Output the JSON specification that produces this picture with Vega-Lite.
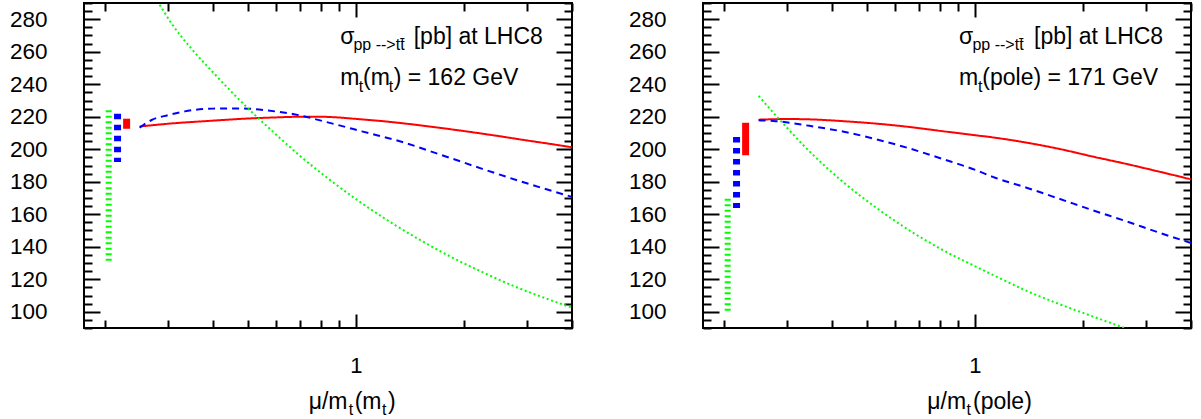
{
  "$schema": "https://vega.github.io/schema/vega-lite/v6.json",
  "padding": {"left": 8, "top": 1, "right": 0, "bottom": 0},
  "bounds": "flush",
  "spacing": 131,
  "datasets": {
    "curvesL": [
      {"series": "NNLO", "mu": 0.25, "sigma": 214.0},
      {"series": "NNLO", "mu": 0.3, "sigma": 215.7},
      {"series": "NNLO", "mu": 0.4, "sigma": 217.6},
      {"series": "NNLO", "mu": 0.5, "sigma": 218.9},
      {"series": "NNLO", "mu": 0.6, "sigma": 219.6},
      {"series": "NNLO", "mu": 0.7, "sigma": 220.0},
      {"series": "NNLO", "mu": 0.8, "sigma": 220.0},
      {"series": "NNLO", "mu": 0.9, "sigma": 219.5},
      {"series": "NNLO", "mu": 1.0, "sigma": 218.7},
      {"series": "NNLO", "mu": 1.25, "sigma": 216.8},
      {"series": "NNLO", "mu": 1.5, "sigma": 214.8},
      {"series": "NNLO", "mu": 2.0, "sigma": 211.2},
      {"series": "NNLO", "mu": 2.5, "sigma": 208.1},
      {"series": "NNLO", "mu": 3.0, "sigma": 205.4},
      {"series": "NNLO", "mu": 3.5, "sigma": 203.2},
      {"series": "NNLO", "mu": 4.0, "sigma": 201.2},
      {"series": "NLO", "mu": 0.25, "sigma": 213.3},
      {"series": "NLO", "mu": 0.27, "sigma": 218.0},
      {"series": "NLO", "mu": 0.3, "sigma": 221.0},
      {"series": "NLO", "mu": 0.334, "sigma": 223.3},
      {"series": "NLO", "mu": 0.4, "sigma": 225.0},
      {"series": "NLO", "mu": 0.48, "sigma": 225.1},
      {"series": "NLO", "mu": 0.57, "sigma": 223.8},
      {"series": "NLO", "mu": 0.7, "sigma": 220.8},
      {"series": "NLO", "mu": 0.8, "sigma": 217.6},
      {"series": "NLO", "mu": 0.9, "sigma": 214.7},
      {"series": "NLO", "mu": 1.04, "sigma": 211.0},
      {"series": "NLO", "mu": 1.34, "sigma": 204.6},
      {"series": "NLO", "mu": 1.735, "sigma": 196.4},
      {"series": "NLO", "mu": 2.24, "sigma": 188.1},
      {"series": "NLO", "mu": 2.9, "sigma": 180.0},
      {"series": "NLO", "mu": 4.0, "sigma": 170.7},
      {"series": "LO", "mu": 0.25, "sigma": 308.5},
      {"series": "LO", "mu": 0.2814, "sigma": 290.5},
      {"series": "LO", "mu": 0.3077, "sigma": 277.0},
      {"series": "LO", "mu": 0.3498, "sigma": 261.5},
      {"series": "LO", "mu": 0.3977, "sigma": 248.0},
      {"series": "LO", "mu": 0.4521, "sigma": 235.0},
      {"series": "LO", "mu": 0.5239, "sigma": 221.0},
      {"series": "LO", "mu": 0.6033, "sigma": 208.5},
      {"series": "LO", "mu": 0.6859, "sigma": 197.5},
      {"series": "LO", "mu": 0.8314, "sigma": 182.5},
      {"series": "LO", "mu": 1.0207, "sigma": 168.0},
      {"series": "LO", "mu": 1.2613, "sigma": 154.5},
      {"series": "LO", "mu": 1.5288, "sigma": 143.5},
      {"series": "LO", "mu": 1.8892, "sigma": 132.5},
      {"series": "LO", "mu": 2.2463, "sigma": 124.5},
      {"series": "LO", "mu": 2.7755, "sigma": 115.5},
      {"series": "LO", "mu": 3.4515, "sigma": 107.5},
      {"series": "LO", "mu": 4.0, "sigma": 102.5}
    ],
    "curvesR": [
      {"series": "NNLO", "mu": 0.25, "sigma": 218.2},
      {"series": "NNLO", "mu": 0.3, "sigma": 218.6},
      {"series": "NNLO", "mu": 0.346, "sigma": 218.4},
      {"series": "NNLO", "mu": 0.429, "sigma": 217.3},
      {"series": "NNLO", "mu": 0.53, "sigma": 215.8},
      {"series": "NNLO", "mu": 0.658, "sigma": 213.7},
      {"series": "NNLO", "mu": 0.814, "sigma": 211.1},
      {"series": "NNLO", "mu": 1.006, "sigma": 208.6},
      {"series": "NNLO", "mu": 1.122, "sigma": 207.3},
      {"series": "NNLO", "mu": 1.4, "sigma": 204.0},
      {"series": "NNLO", "mu": 1.72, "sigma": 200.2},
      {"series": "NNLO", "mu": 2.12, "sigma": 195.6},
      {"series": "NNLO", "mu": 2.64, "sigma": 191.0},
      {"series": "NNLO", "mu": 3.25, "sigma": 186.3},
      {"series": "NNLO", "mu": 4.0, "sigma": 181.5},
      {"series": "NLO", "mu": 0.25, "sigma": 217.8},
      {"series": "NLO", "mu": 0.279, "sigma": 217.3},
      {"series": "NLO", "mu": 0.346, "sigma": 214.4},
      {"series": "NLO", "mu": 0.429, "sigma": 210.9},
      {"series": "NLO", "mu": 0.53, "sigma": 206.2},
      {"series": "NLO", "mu": 0.658, "sigma": 200.5},
      {"series": "NLO", "mu": 0.814, "sigma": 194.0},
      {"series": "NLO", "mu": 1.006, "sigma": 187.2},
      {"series": "NLO", "mu": 1.122, "sigma": 183.0},
      {"series": "NLO", "mu": 1.4, "sigma": 176.2},
      {"series": "NLO", "mu": 1.72, "sigma": 169.5},
      {"series": "NLO", "mu": 2.12, "sigma": 162.6},
      {"series": "NLO", "mu": 2.64, "sigma": 155.7},
      {"series": "NLO", "mu": 3.25, "sigma": 148.8},
      {"series": "NLO", "mu": 4.0, "sigma": 142.3},
      {"series": "LO", "mu": 0.25, "sigma": 232.8},
      {"series": "LO", "mu": 0.279, "sigma": 220.9},
      {"series": "LO", "mu": 0.346, "sigma": 198.8},
      {"series": "LO", "mu": 0.429, "sigma": 180.0},
      {"series": "LO", "mu": 0.53, "sigma": 164.2},
      {"series": "LO", "mu": 0.658, "sigma": 150.0},
      {"series": "LO", "mu": 0.814, "sigma": 138.0},
      {"series": "LO", "mu": 1.006, "sigma": 127.8},
      {"series": "LO", "mu": 1.122, "sigma": 122.7},
      {"series": "LO", "mu": 1.4, "sigma": 112.7},
      {"series": "LO", "mu": 1.72, "sigma": 104.7},
      {"series": "LO", "mu": 2.12, "sigma": 97.3},
      {"series": "LO", "mu": 2.585, "sigma": 90.4},
      {"series": "LO", "mu": 3.2, "sigma": 83.7},
      {"series": "LO", "mu": 4.0, "sigma": 77.0}
    ],
    "barsL": [
      {"series": "LO", "mu": 0.205, "hi": 224.0, "lo": 130.2},
      {"series": "NLO", "mu": 0.217, "hi": 221.9, "lo": 192.2},
      {"series": "NNLO", "mu": 0.23, "hi": 218.8, "lo": 212.6}
    ],
    "barsR": [
      {"series": "LO", "mu": 0.205, "hi": 169.6, "lo": 98.4},
      {"series": "NLO", "mu": 0.217, "hi": 207.5, "lo": 163.8},
      {"series": "NNLO", "mu": 0.23, "hi": 216.3, "lo": 196.3}
    ]
  },
  "hconcat": [
    {
      "width": 488,
      "height": 325,
      "layer": [
        {
          "data": {"name": "curvesL"},
          "mark": {"type": "line", "clip": true, "strokeWidth": 2, "interpolate": "monotone"},
          "encoding": {
            "x": {"field": "mu", "type": "quantitative", "scale": {"type": "log", "domain": [0.175, 4], "nice": false},
              "axis": {"orient": "bottom", "title": null, "domain": false, "grid": false, "values": [0.2,0.3,0.4,0.5,0.6,0.7,0.8,0.9,1,2,3,4],
                "labelExpr": "datum.value == 1 ? '1' : ''", "tickSize": {"condition": {"test": "datum.value == 1", "value": -14}, "value": -8},
                "labelFontSize": {"condition": {"test": "datum.value == 1", "value": 22}, "value": 1},
                "labelPadding": 41, "labelOverlap": false, "labelFlush": false}},
            "y": {"field": "sigma", "type": "quantitative", "scale": {"domain": [90, 290], "nice": false, "zero": false},
              "axis": {"orient": "left", "title": null, "domain": false, "grid": false,
                "values": [90,95,100,105,110,115,120,125,130,135,140,145,150,155,160,165,170,175,180,185,190,195,200,205,210,215,220,225,230,235,240,245,250,255,260,265,270,275,280,285,290],
                "labelExpr": "datum.value % 20 == 0 && datum.value >= 100 && datum.value <= 280 ? datum.label : ''",
                "labelFontSize": {"condition": {"test": "datum.value % 20 == 0 && datum.value >= 100 && datum.value <= 280", "value": 22.5}, "value": 1},
                "tickSize": {"condition": {"test": "datum.value % 20 == 0", "value": -16}, "value": -8},
                "labelPadding": 53, "labelOverlap": false, "labelFlush": false}},
            "color": {"field": "series", "type": "nominal", "scale": {"domain": ["LO", "NLO", "NNLO"], "range": ["#00ff00", "#0000ff", "#ff0000"]}, "legend": null},
            "strokeDash": {"field": "series", "type": "nominal", "scale": {"domain": ["LO", "NLO", "NNLO"], "range": [[2, 2.7], [7, 5], [1, 0]]}, "legend": null}
          }
        },
        {
          "data": {"name": "barsL"},
          "transform": [{"filter": "datum.series == 'LO'"}],
          "mark": {"type": "rule", "color": "#00ff00", "strokeWidth": 6, "strokeDash": [2, 3.5]},
          "encoding": {"x": {"field": "mu", "type": "quantitative", "axis": null}, "y": {"field": "hi", "type": "quantitative", "axis": null}, "y2": {"field": "lo"}}
        },
        {
          "data": {"name": "barsL"},
          "transform": [{"filter": "datum.series == 'NLO'"}],
          "mark": {"type": "rule", "color": "#0000ff", "strokeWidth": 7, "strokeDash": [5.5, 5.5]},
          "encoding": {"x": {"field": "mu", "type": "quantitative", "axis": null}, "y": {"field": "hi", "type": "quantitative", "axis": null}, "y2": {"field": "lo"}}
        },
        {
          "data": {"name": "barsL"},
          "transform": [{"filter": "datum.series == 'NNLO'"}],
          "mark": {"type": "rule", "color": "#ff0000", "strokeWidth": 7},
          "encoding": {"x": {"field": "mu", "type": "quantitative", "axis": null}, "y": {"field": "hi", "type": "quantitative", "axis": null}, "y2": {"field": "lo"}}
        },
        {"data": {"values": [{}]}, "mark": {"type": "text", "align": "left", "baseline": "alphabetic", "fontSize": 23, "font": "Liberation Sans", "color": "black"},
          "encoding": {"x": {"datum": 0.9054, "type": "quantitative", "axis": null}, "y": {"datum": 264.77, "type": "quantitative", "axis": null}, "text": {"value": "σ"}}},
        {"data": {"values": [{}]}, "mark": {"type": "text", "align": "left", "baseline": "alphabetic", "fontSize": 16, "font": "Liberation Sans", "color": "black"},
          "encoding": {"x": {"datum": 0.985, "type": "quantitative", "axis": null}, "y": {"datum": 260.77, "type": "quantitative", "axis": null}, "text": {"value": "pp -->tt̄"}}},
        {"data": {"values": [{}]}, "mark": {"type": "text", "align": "left", "baseline": "alphabetic", "fontSize": 23, "font": "Liberation Sans", "color": "black"},
          "encoding": {"x": {"datum": 1.4496, "type": "quantitative", "axis": null}, "y": {"datum": 264.77, "type": "quantitative", "axis": null}, "text": {"value": "[pb] at LHC8"}}},
        {"data": {"values": [{}]}, "mark": {"type": "text", "align": "left", "baseline": "alphabetic", "fontSize": 23, "font": "Liberation Sans", "color": "black"},
          "encoding": {"x": {"datum": 0.9054, "type": "quantitative", "axis": null}, "y": {"datum": 239.35, "type": "quantitative", "axis": null}, "text": {"value": "m"}}},
        {"data": {"values": [{}]}, "mark": {"type": "text", "align": "left", "baseline": "alphabetic", "fontSize": 16, "font": "Liberation Sans", "color": "black"},
          "encoding": {"x": {"datum": 1.0188, "type": "quantitative", "axis": null}, "y": {"datum": 235.2, "type": "quantitative", "axis": null}, "text": {"value": "t"}}},
        {"data": {"values": [{}]}, "mark": {"type": "text", "align": "left", "baseline": "alphabetic", "fontSize": 23, "font": "Liberation Sans", "color": "black"},
          "encoding": {"x": {"datum": 1.0473, "type": "quantitative", "axis": null}, "y": {"datum": 239.35, "type": "quantitative", "axis": null}, "text": {"value": "(m"}}},
        {"data": {"values": [{}]}, "mark": {"type": "text", "align": "left", "baseline": "alphabetic", "fontSize": 16, "font": "Liberation Sans", "color": "black"},
          "encoding": {"x": {"datum": 1.2349, "type": "quantitative", "axis": null}, "y": {"datum": 235.2, "type": "quantitative", "axis": null}, "text": {"value": "t"}}},
        {"data": {"values": [{}]}, "mark": {"type": "text", "align": "left", "baseline": "alphabetic", "fontSize": 23, "font": "Liberation Sans", "color": "black"},
          "encoding": {"x": {"datum": 1.2751, "type": "quantitative", "axis": null}, "y": {"datum": 239.35, "type": "quantitative", "axis": null}, "text": {"value": ") = 162 GeV"}}},
        {"data": {"values": [{}]}, "mark": {"type": "text", "align": "left", "baseline": "alphabetic", "fontSize": 23, "font": "Liberation Sans", "color": "black", "clip": false},
          "encoding": {"x": {"datum": 0.7393, "type": "quantitative", "axis": null}, "y": {"datum": 39.97, "type": "quantitative", "axis": null}, "text": {"value": "μ/m"}}},
        {"data": {"values": [{}]}, "mark": {"type": "text", "align": "left", "baseline": "alphabetic", "fontSize": 16, "font": "Liberation Sans", "color": "black", "clip": false},
          "encoding": {"x": {"datum": 0.9555, "type": "quantitative", "axis": null}, "y": {"datum": 36.46, "type": "quantitative", "axis": null}, "text": {"value": "t"}}},
        {"data": {"values": [{}]}, "mark": {"type": "text", "align": "left", "baseline": "alphabetic", "fontSize": 23, "font": "Liberation Sans", "color": "black", "clip": false},
          "encoding": {"x": {"datum": 0.993, "type": "quantitative", "axis": null}, "y": {"datum": 39.97, "type": "quantitative", "axis": null}, "text": {"value": "(m"}}},
        {"data": {"values": [{}]}, "mark": {"type": "text", "align": "left", "baseline": "alphabetic", "fontSize": 16, "font": "Liberation Sans", "color": "black", "clip": false},
          "encoding": {"x": {"datum": 1.183, "type": "quantitative", "axis": null}, "y": {"datum": 36.46, "type": "quantitative", "axis": null}, "text": {"value": "t"}}},
        {"data": {"values": [{}]}, "mark": {"type": "text", "align": "left", "baseline": "alphabetic", "fontSize": 23, "font": "Liberation Sans", "color": "black", "clip": false},
          "encoding": {"x": {"datum": 1.2293, "type": "quantitative", "axis": null}, "y": {"datum": 39.97, "type": "quantitative", "axis": null}, "text": {"value": ")"}}},
        {
          "data": {"name": "barsL"},
          "mark": {"type": "point", "opacity": 0},
          "encoding": {
            "x": {"field": "mu", "type": "quantitative", "axis": {"orient": "top", "title": null, "domain": false, "grid": false, "labels": false, "values": [0.2,0.3,0.4,0.5,0.6,0.7,0.8,0.9,1,2,3,4],
                "tickSize": {"condition": {"test": "datum.value == 1", "value": -14}, "value": -8}}},
            "y": {"field": "hi", "type": "quantitative", "axis": {"orient": "right", "title": null, "domain": false, "grid": false, "labels": false,
                "values": [90,95,100,105,110,115,120,125,130,135,140,145,150,155,160,165,170,175,180,185,190,195,200,205,210,215,220,225,230,235,240,245,250,255,260,265,270,275,280,285,290],
                "tickSize": {"condition": {"test": "datum.value % 20 == 0", "value": -16}, "value": -8}}}
          }
        }
      ],
      "resolve": {"axis": {"x": "independent", "y": "independent"}}
    },
    {
      "width": 488,
      "height": 325,
      "layer": [
        {
          "data": {"name": "curvesR"},
          "mark": {"type": "line", "clip": true, "strokeWidth": 2, "interpolate": "monotone"},
          "encoding": {
            "x": {"field": "mu", "type": "quantitative", "scale": {"type": "log", "domain": [0.175, 4], "nice": false},
              "axis": {"orient": "bottom", "title": null, "domain": false, "grid": false, "values": [0.2,0.3,0.4,0.5,0.6,0.7,0.8,0.9,1,2,3,4],
                "labelExpr": "datum.value == 1 ? '1' : ''", "tickSize": {"condition": {"test": "datum.value == 1", "value": -14}, "value": -8},
                "labelFontSize": {"condition": {"test": "datum.value == 1", "value": 22}, "value": 1},
                "labelPadding": 41, "labelOverlap": false, "labelFlush": false}},
            "y": {"field": "sigma", "type": "quantitative", "scale": {"domain": [90, 290], "nice": false, "zero": false},
              "axis": {"orient": "left", "title": null, "domain": false, "grid": false,
                "values": [90,95,100,105,110,115,120,125,130,135,140,145,150,155,160,165,170,175,180,185,190,195,200,205,210,215,220,225,230,235,240,245,250,255,260,265,270,275,280,285,290],
                "labelExpr": "datum.value % 20 == 0 && datum.value >= 100 && datum.value <= 280 ? datum.label : ''",
                "labelFontSize": {"condition": {"test": "datum.value % 20 == 0 && datum.value >= 100 && datum.value <= 280", "value": 22.5}, "value": 1},
                "tickSize": {"condition": {"test": "datum.value % 20 == 0", "value": -16}, "value": -8},
                "labelPadding": 53, "labelOverlap": false, "labelFlush": false}},
            "color": {"field": "series", "type": "nominal", "scale": {"domain": ["LO", "NLO", "NNLO"], "range": ["#00ff00", "#0000ff", "#ff0000"]}, "legend": null},
            "strokeDash": {"field": "series", "type": "nominal", "scale": {"domain": ["LO", "NLO", "NNLO"], "range": [[2, 2.7], [7, 5], [1, 0]]}, "legend": null}
          }
        },
        {
          "data": {"name": "barsR"},
          "transform": [{"filter": "datum.series == 'LO'"}],
          "mark": {"type": "rule", "color": "#00ff00", "strokeWidth": 6, "strokeDash": [2, 3.5]},
          "encoding": {"x": {"field": "mu", "type": "quantitative", "axis": null}, "y": {"field": "hi", "type": "quantitative", "axis": null}, "y2": {"field": "lo"}}
        },
        {
          "data": {"name": "barsR"},
          "transform": [{"filter": "datum.series == 'NLO'"}],
          "mark": {"type": "rule", "color": "#0000ff", "strokeWidth": 7, "strokeDash": [5.5, 5.5]},
          "encoding": {"x": {"field": "mu", "type": "quantitative", "axis": null}, "y": {"field": "hi", "type": "quantitative", "axis": null}, "y2": {"field": "lo"}}
        },
        {
          "data": {"name": "barsR"},
          "transform": [{"filter": "datum.series == 'NNLO'"}],
          "mark": {"type": "rule", "color": "#ff0000", "strokeWidth": 7},
          "encoding": {"x": {"field": "mu", "type": "quantitative", "axis": null}, "y": {"field": "hi", "type": "quantitative", "axis": null}, "y2": {"field": "lo"}}
        },
        {"data": {"values": [{}]}, "mark": {"type": "text", "align": "left", "baseline": "alphabetic", "fontSize": 23, "font": "Liberation Sans", "color": "black"},
          "encoding": {"x": {"datum": 0.9037, "type": "quantitative", "axis": null}, "y": {"datum": 264.77, "type": "quantitative", "axis": null}, "text": {"value": "σ"}}},
        {"data": {"values": [{}]}, "mark": {"type": "text", "align": "left", "baseline": "alphabetic", "fontSize": 16, "font": "Liberation Sans", "color": "black"},
          "encoding": {"x": {"datum": 0.985, "type": "quantitative", "axis": null}, "y": {"datum": 260.77, "type": "quantitative", "axis": null}, "text": {"value": "pp -->tt̄"}}},
        {"data": {"values": [{}]}, "mark": {"type": "text", "align": "left", "baseline": "alphabetic", "fontSize": 23, "font": "Liberation Sans", "color": "black"},
          "encoding": {"x": {"datum": 1.4617, "type": "quantitative", "axis": null}, "y": {"datum": 264.77, "type": "quantitative", "axis": null}, "text": {"value": "[pb] at LHC8"}}},
        {"data": {"values": [{}]}, "mark": {"type": "text", "align": "left", "baseline": "alphabetic", "fontSize": 23, "font": "Liberation Sans", "color": "black"},
          "encoding": {"x": {"datum": 0.9037, "type": "quantitative", "axis": null}, "y": {"datum": 239.35, "type": "quantitative", "axis": null}, "text": {"value": "m"}}},
        {"data": {"values": [{}]}, "mark": {"type": "text", "align": "left", "baseline": "alphabetic", "fontSize": 16, "font": "Liberation Sans", "color": "black"},
          "encoding": {"x": {"datum": 1.0207, "type": "quantitative", "axis": null}, "y": {"datum": 235.2, "type": "quantitative", "axis": null}, "text": {"value": "t"}}},
        {"data": {"values": [{}]}, "mark": {"type": "text", "align": "left", "baseline": "alphabetic", "fontSize": 23, "font": "Liberation Sans", "color": "black"},
          "encoding": {"x": {"datum": 1.0493, "type": "quantitative", "axis": null}, "y": {"datum": 239.35, "type": "quantitative", "axis": null}, "text": {"value": "(pole) = 171 GeV"}}},
        {"data": {"values": [{}]}, "mark": {"type": "text", "align": "left", "baseline": "alphabetic", "fontSize": 23, "font": "Liberation Sans", "color": "black", "clip": false},
          "encoding": {"x": {"datum": 0.7375, "type": "quantitative", "axis": null}, "y": {"datum": 39.97, "type": "quantitative", "axis": null}, "text": {"value": "μ/m"}}},
        {"data": {"values": [{}]}, "mark": {"type": "text", "align": "left", "baseline": "alphabetic", "fontSize": 16, "font": "Liberation Sans", "color": "black", "clip": false},
          "encoding": {"x": {"datum": 0.9488, "type": "quantitative", "axis": null}, "y": {"datum": 36.46, "type": "quantitative", "axis": null}, "text": {"value": "t"}}},
        {"data": {"values": [{}]}, "mark": {"type": "text", "align": "left", "baseline": "alphabetic", "fontSize": 23, "font": "Liberation Sans", "color": "black", "clip": false},
          "encoding": {"x": {"datum": 0.9885, "type": "quantitative", "axis": null}, "y": {"datum": 39.97, "type": "quantitative", "axis": null}, "text": {"value": "(pole)"}}},
        {
          "data": {"name": "barsR"},
          "mark": {"type": "point", "opacity": 0},
          "encoding": {
            "x": {"field": "mu", "type": "quantitative", "axis": {"orient": "top", "title": null, "domain": false, "grid": false, "labels": false, "values": [0.2,0.3,0.4,0.5,0.6,0.7,0.8,0.9,1,2,3,4],
                "tickSize": {"condition": {"test": "datum.value == 1", "value": -14}, "value": -8}}},
            "y": {"field": "hi", "type": "quantitative", "axis": {"orient": "right", "title": null, "domain": false, "grid": false, "labels": false,
                "values": [90,95,100,105,110,115,120,125,130,135,140,145,150,155,160,165,170,175,180,185,190,195,200,205,210,215,220,225,230,235,240,245,250,255,260,265,270,275,280,285,290],
                "tickSize": {"condition": {"test": "datum.value % 20 == 0", "value": -16}, "value": -8}}}
          }
        }
      ],
      "resolve": {"axis": {"x": "independent", "y": "independent"}}
    }
  ],
  "config": {
    "view": {"stroke": "black", "strokeWidth": 2},
    "axis": {"tickColor": "black", "tickWidth": 2, "labelColor": "black", "labelFont": "Liberation Sans", "labelFontSize": 22, "minExtent": 0}
  }
}
